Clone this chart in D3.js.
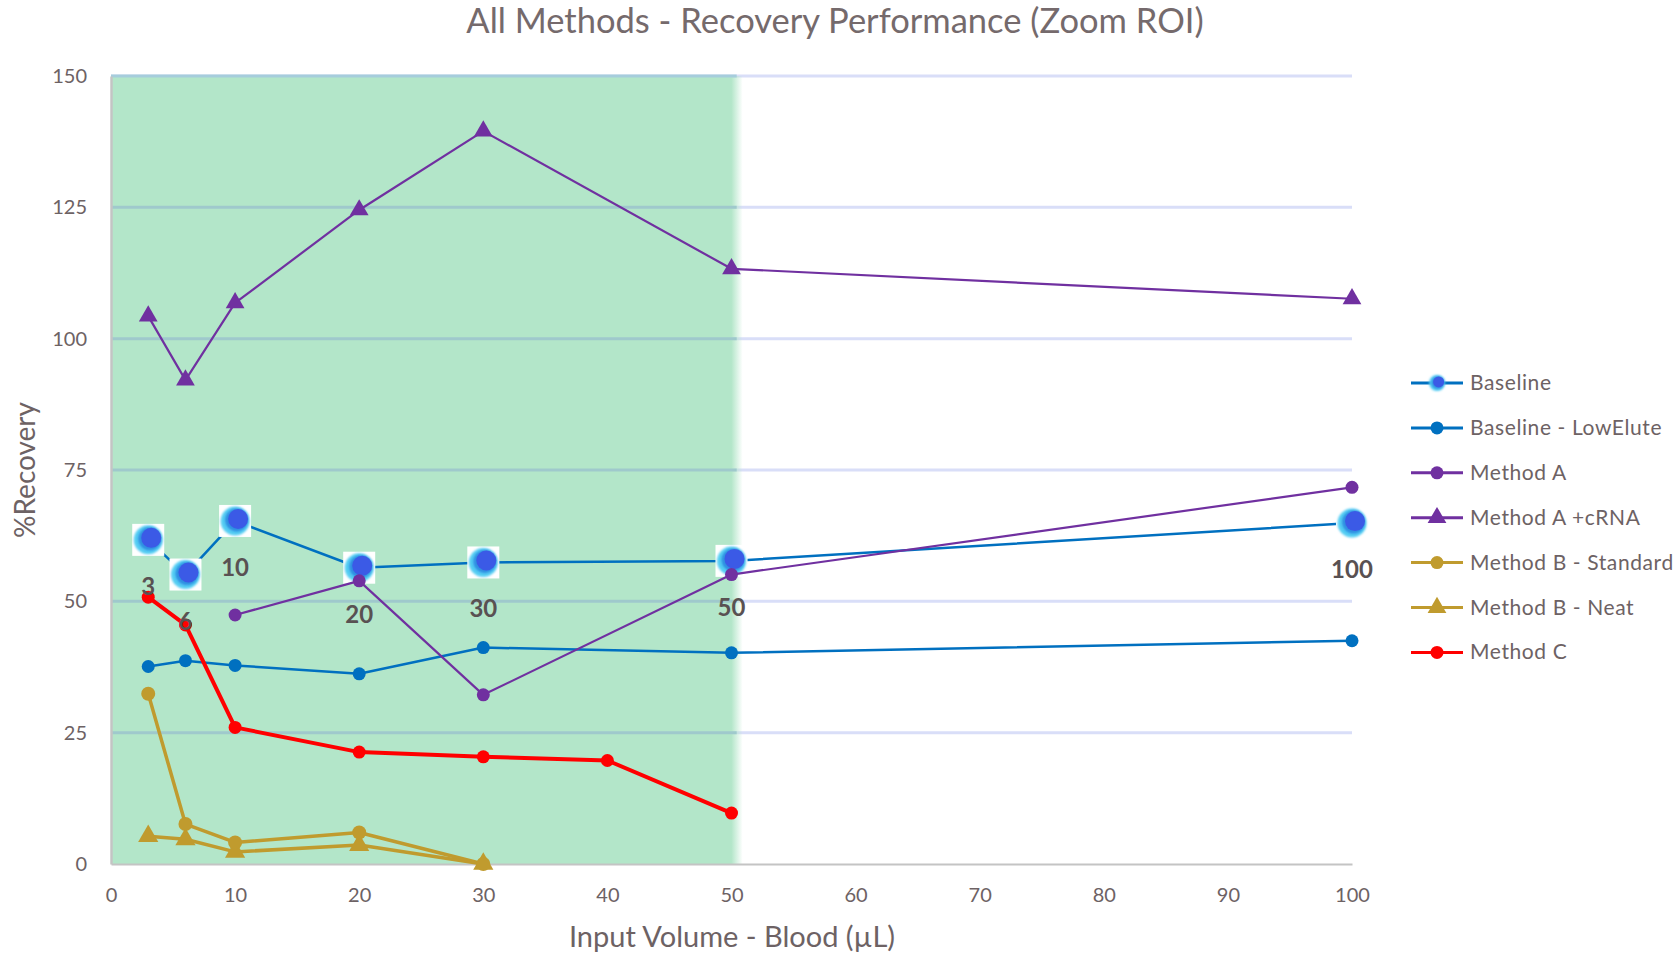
<!DOCTYPE html>
<meta charset="utf-8">
<script src="https://d3js.org/d3.v7.min.js"></script>
<style>
  body { margin: 0; background: #fff; }
  text { font-family: Lato, "Open Sans", sans-serif; fill: #6d6264; }
</style>
<div id="chart"></div>
<script>

// data
var volumes = [3, 6, 10, 20, 30, 50, 100];
var baseline = [61.7, 55.1, 65.3, 56.4, 57.4, 57.7, 64.9];
var baselineLowElute = [37.6, 38.7, 37.8, 36.2, 41.2, 40.2, 42.5];
var methodAVolumes = [10, 20, 30, 50, 100];
var methodA = [47.4, 53.9, 32.2, 55.1, 71.7];
var methodACrna = [104.3, 92.1, 106.8, 124.5, 139.5, 113.3, 107.6];
var methodBVolumes = [3, 6, 10, 20, 30];
var methodBStandard = [32.4, 7.6, 4.1, 6.0, 0];
var methodBNeat = [5.3, 4.7, 2.3, 3.6, 0];
var methodCVolumes = [3, 6, 10, 20, 30, 40, 50];
var methodC = [50.8, 45.5, 26.0, 21.3, 20.4, 19.7, 9.7];
var baselineLabels = ["3", "6", "10", "20", "30", "50", "100"];
var xTicks = [0, 10, 20, 30, 40, 50, 60, 70, 80, 90, 100];
var yTicks = [0, 25, 50, 75, 100, 125, 150];
var zoomRange = [0, 50.9];

var W = 1675, H = 955;
var margin = {top: 76, right: 323, bottom: 91, left: 111};

var svg = d3.select("#chart").append("svg")
    .attr("width", W)
    .attr("height", H);

var defs = svg.append("defs");
defs.append("filter").attr("id", "soft")
    .attr("x", "-50%").attr("y", "-50%").attr("width", "200%").attr("height", "200%")
  .append("feGaussianBlur").attr("stdDeviation", 1.3);

var grad = defs.append("linearGradient").attr("id", "band")
    .attr("x1", "0").attr("x2", "1").attr("y1", "0").attr("y2", "0");
grad.append("stop").attr("offset", "0.982").attr("stop-color", "#b3e6c9").attr("stop-opacity", 1);
grad.append("stop").attr("offset", "1").attr("stop-color", "#b3e6c9").attr("stop-opacity", 0);

var x = d3.scaleLinear().domain([0, 100]).range([margin.left, W - margin.right]);
var y = d3.scaleLinear().domain([0, 150]).range([H - margin.bottom, margin.top]);

// title
svg.append("text")
    .attr("x", 835).attr("y", 33)
    .attr("text-anchor", "middle")
    .style("font-size", "34.5px")
    .style("fill", "#756a6c")
    .text("All Methods - Recovery Performance (Zoom ROI)");

// gridlines (outside band)
svg.append("g").selectAll("line")
  .data(yTicks.slice(1))
  .enter().append("line")
    .attr("x1", x(0)).attr("x2", x(100))
    .attr("y1", function(d) { return y(d); })
    .attr("y2", function(d) { return y(d); })
    .style("stroke", "#d9def8")
    .style("stroke-width", 3);

// zoom region band
svg.append("rect")
    .attr("x", x(zoomRange[0]))
    .attr("y", y(150))
    .attr("width", x(zoomRange[1]) - x(zoomRange[0]))
    .attr("height", y(0) - y(150))
    .style("fill", "url(#band)");

// gridlines inside band
svg.append("g").selectAll("line")
  .data(yTicks.slice(1))
  .enter().append("line")
    .attr("x1", x(0)).attr("x2", x(zoomRange[1]) - 6)
    .attr("y1", function(d) { return y(d); })
    .attr("y2", function(d) { return y(d); })
    .style("stroke", function(d) { return d == 150 ? "#a6cddc" : "#9fc9cc"; })
    .style("stroke-width", 3);

// axes
var xAxis = svg.append("g")
    .attr("transform", "translate(0," + y(0) + ")")
    .call(d3.axisBottom(x).tickValues(xTicks).tickSize(0).tickPadding(24));
xAxis.select(".domain").style("stroke", "#c4c4c4").style("stroke-width", 2);
xAxis.selectAll("text").style("font-size", "20px").style("fill", "#6d6264").style("font-family", "Lato");

var yAxis = svg.append("g")
    .attr("transform", "translate(" + x(0) + ",0)")
    .call(d3.axisLeft(y).tickValues(yTicks).tickSize(0).tickPadding(24));
yAxis.select(".domain").style("stroke", "#c4c4c4").style("stroke-width", 2.5);
yAxis.selectAll("text").style("font-size", "20px").style("fill", "#6d6264").style("font-family", "Lato");

svg.append("text")
    .attr("x", 732).attr("y", 947)
    .attr("text-anchor", "middle")
    .style("font-size", "29px")
    .text("Input Volume - Blood (\u00b5L)");

svg.append("text")
    .attr("transform", "translate(35,470)rotate(-90)")
    .attr("text-anchor", "middle")
    .style("font-size", "28px")
    .text("%Recovery");

// series
function zip(xs, ys) { return xs.map(function(v, i) { return [v, ys[i]]; }); }

var line = d3.line()
    .x(function(d) { return x(d[0]); })
    .y(function(d) { return y(d[1]); });

var series = [
  {name: "Baseline", pts: zip(volumes, baseline), color: "#0070c0", width: 2.5, marker: "blob"},
  {name: "Baseline - LowElute", pts: zip(volumes, baselineLowElute), color: "#0070c0", width: 2.5, marker: "circle"},
  {name: "Method A", pts: zip(methodAVolumes, methodA), color: "#7030a0", width: 2.2, marker: "circle"},
  {name: "Method A +cRNA", pts: zip(volumes, methodACrna), color: "#7030a0", width: 2.2, marker: "triangle"},
  {name: "Method B - Standard", pts: zip(methodBVolumes, methodBStandard), color: "#c09b2e", width: 3.5, marker: "circle"},
  {name: "Method B - Neat", pts: zip(methodBVolumes, methodBNeat), color: "#c09b2e", width: 3.5, marker: "triangle"},
  {name: "Method C", pts: zip(methodCVolumes, methodC), color: "#ff0000", width: 4, marker: "circle"}
];

function drawBlob(g, withBox, s) {
  if (withBox) {
    g.append("rect").attr("x", -16).attr("y", -16).attr("width", 32).attr("height", 32).style("fill", "#fff");
  }
  g.append("circle").attr("r", 14.5 * s).style("fill", "#55cdf3").attr("filter", "url(#soft)");
  g.append("circle").attr("cx", 1.5 * s).attr("cy", -1 * s).attr("r", 11.5 * s).style("fill", "#2e8fe2").attr("filter", "url(#soft)");
  g.append("circle").attr("cx", 3 * s).attr("cy", -2 * s).attr("r", 10 * s).style("fill", "#3b5ae6");
}

function drawMarker(g, s, color, size) {
  if (s == "circle") {
    g.append("circle").attr("r", size).style("fill", color);
  } else if (s == "triangle") {
    g.append("path").attr("d", d3.symbol().type(d3.symbolTriangle).size(size * size * 3.6)()).style("fill", color);
  }
}

// Neat is painted before Standard so the Standard circles sit on top
var drawOrder = [0, 1, 2, 3, 5, 4, 6];
drawOrder.forEach(function(k) {
  var s = series[k];
  var g = svg.append("g");
  g.append("path")
      .datum(s.pts)
      .attr("d", line)
      .style("fill", "none")
      .style("stroke", s.color)
      .style("stroke-width", s.width)
      .style("stroke-linejoin", "round");
  g.selectAll("g.pt")
    .data(s.pts)
    .enter().append("g")
      .attr("class", "pt")
      .attr("transform", function(d) { return "translate(" + x(d[0]) + "," + y(d[1]) + ")"; })
      .each(function() {
        if (s.marker == "blob") drawBlob(d3.select(this), true, 1);
        else drawMarker(d3.select(this), s.marker, s.color, s.name.indexOf("Method B") == 0 ? 7 : 6.5);
      });
});

// data labels under Baseline points
svg.append("g").selectAll("text")
  .data(zip(volumes, baseline))
  .enter().append("text")
    .attr("x", function(d) { return x(d[0]); })
    .attr("y", function(d) { return y(d[1]) + 55; })
    .attr("text-anchor", "middle")
    .style("font-size", "24px")
    .style("font-weight", "bold")
    .style("fill", "#595152")
    .text(function(d, i) { return baselineLabels[i]; });

// legend
var legend = svg.append("g").attr("transform", "translate(1411,383)");
series.forEach(function(s, i) {
  var row = legend.append("g").attr("transform", "translate(0," + (i * 44.9) + ")");
  row.append("line").attr("x1", 0).attr("x2", 52)
      .style("stroke", s.color).style("stroke-width", 3);
  var m = row.append("g").attr("transform", "translate(26,0)");
  if (s.marker == "blob") drawBlob(m, false, 0.55);
  else drawMarker(m, s.marker, s.color, 6.5);
  row.append("text").attr("x", 59).attr("y", 7)
      .style("font-size", "21px")
      .style("letter-spacing", "0.6px")
      .text(s.name);
});

</script>
